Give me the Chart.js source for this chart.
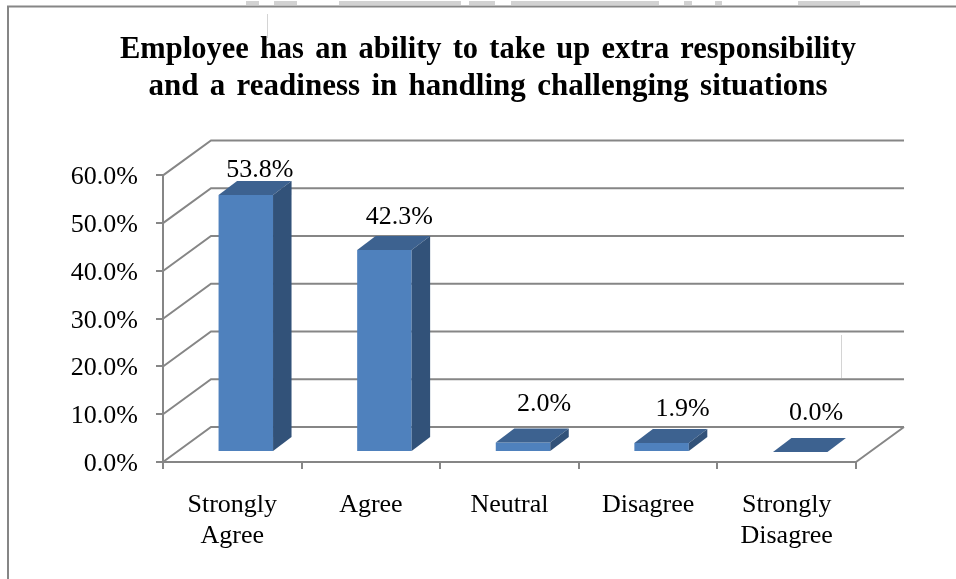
<!DOCTYPE html>
<html>
<head>
<meta charset="utf-8">
<title>Employee readiness</title>
<script src="https://cdn.jsdelivr.net/npm/chart.js@4/dist/chart.umd.min.js"></script>
<style>
  html, body { margin: 0; padding: 0; background: #fff; }
  #wrap { width: 956px; height: 579px; }
</style>
</head>
<body>
<div id="wrap"><canvas id="chart" width="956" height="579"></canvas></div>
<script>
const categories = [['Strongly', 'Agree'], 'Agree', 'Neutral', 'Disagree', ['Strongly', 'Disagree']];
const percentValues = [53.8, 42.3, 2.0, 1.9, 0.0];
const titleLines = [
  'Employee has an ability to take up extra responsibility',
  'and a readiness in handling challenging situations'
];
const yTicks = [0, 10, 20, 30, 40, 50, 60];

const FONT = '"Liberation Serif", "Times New Roman", serif';
const LINE = '#868686';
// depth of the fake 3D box
const WALL_DX = 48, WALL_DY = -35;
// bars stand a little way back from the front edge of the floor
const BAR_DX = 13.5, BAR_DY = -10;
const BAR_DEPTH_X = 18.5, BAR_DEPTH_Y = -14;
// hand placed value labels in the original, relative to the bar's top front edge
const labelNudge = [[14, -25], [15, -33], [21, -38], [21, -34], [16, -39]];
// scraps of the page watermark showing above the frame
const watermarkBits = [[246, 259], [274, 297], [339, 461], [469, 495], [511, 659], [684, 692], [715, 722], [798, 860]];

const frame3d = {
  id: 'frame3d',
  afterLayout(chart) {
    // labels are clipped to the axis box, so stretch it out to the canvas edge
    chart.scales.y.left = 0;
  },
  beforeDraw(chart) {
    const { ctx, chartArea: a, scales: { y } } = chart;
    ctx.wordSpacing = '3.6px'; // title is set loosely in the original
    ctx.save();
    ctx.fillStyle = '#d2d2d2';
    watermarkBits.forEach(w => ctx.fillRect(w[0], 1, w[1] - w[0], 4));
    // picture frame
    ctx.strokeStyle = LINE;
    ctx.lineWidth = 2;
    ctx.beginPath();
    ctx.moveTo(8, 579); ctx.lineTo(8, 6.5); ctx.lineTo(956, 6.5);
    ctx.stroke();
    // back wall + left wall lines, one for each tick
    ctx.beginPath();
    y.ticks.forEach(t => {
      const py = y.getPixelForValue(t.value);
      ctx.moveTo(a.left, py);
      ctx.lineTo(a.left + WALL_DX, py + WALL_DY);
      ctx.lineTo(a.right + WALL_DX, py + WALL_DY);
    });
    // floor right edge
    ctx.moveTo(a.right, a.bottom);
    ctx.lineTo(a.right + WALL_DX, a.bottom + WALL_DY);
    ctx.stroke();
    // faint scan seams
    ctx.strokeStyle = '#d4d4d4';
    ctx.lineWidth = 1;
    ctx.beginPath();
    ctx.moveTo(267.5, 14); ctx.lineTo(267.5, 38);
    ctx.moveTo(841.5, 335); ctx.lineTo(841.5, 378);
    ctx.stroke();
    ctx.restore();
  },
  beforeDatasetsDraw(chart) {
    chart.ctx.save();
    chart.ctx.translate(BAR_DX, BAR_DY);
  },
  afterDatasetsDraw(chart) {
    const { ctx } = chart;
    const bars = chart.getDatasetMeta(0).data;
    bars.forEach(b => {
      const l = b.x - b.width / 2, r = b.x + b.width / 2;
      // top face
      ctx.fillStyle = '#3d6290';
      ctx.beginPath();
      ctx.moveTo(l, b.y);
      ctx.lineTo(l + BAR_DEPTH_X, b.y + BAR_DEPTH_Y);
      ctx.lineTo(r + BAR_DEPTH_X, b.y + BAR_DEPTH_Y);
      ctx.lineTo(r, b.y);
      ctx.closePath();
      ctx.fill();
      // side face
      ctx.fillStyle = '#325279';
      ctx.beginPath();
      ctx.moveTo(r, b.y);
      ctx.lineTo(r + BAR_DEPTH_X, b.y + BAR_DEPTH_Y);
      ctx.lineTo(r + BAR_DEPTH_X, b.base + BAR_DEPTH_Y);
      ctx.lineTo(r, b.base);
      ctx.closePath();
      ctx.fill();
    });
    ctx.restore();

    // value labels
    ctx.save();
    ctx.fillStyle = '#000';
    ctx.font = '26px ' + FONT;
    ctx.textAlign = 'center';
    ctx.textBaseline = 'middle';
    bars.forEach((b, i) => {
      ctx.fillText(percentValues[i].toFixed(1) + '%',
        b.x + BAR_DX + labelNudge[i][0], b.y + BAR_DY + labelNudge[i][1]);
    });
    ctx.restore();
  }
};

new Chart(document.getElementById('chart'), {
  type: 'bar',
  data: {
    labels: categories,
    datasets: [{
      data: percentValues,
      backgroundColor: '#4f81bd',
      borderWidth: 0,
      barPercentage: 0.393,
      categoryPercentage: 1,
      clip: false
    }]
  },
  options: {
    responsive: false,
    animation: false,
    layout: { padding: { left: 120, right: 100, top: 31, bottom: 10 } },
    plugins: {
      legend: { display: false },
      tooltip: { enabled: false },
      title: {
        display: true,
        text: titleLines,
        color: '#000',
        font: { family: FONT, size: 31, weight: 'bold', lineHeight: 1.2 },
        padding: { top: 0, bottom: 70 }
      }
    },
    scales: {
      x: {
        afterFit(s) { s.height = 107; },
        grid: { drawOnChartArea: false, color: LINE, lineWidth: 2, tickLength: 7 },
        border: { color: LINE, width: 2 },
        ticks: { color: '#000', font: { family: FONT, size: 26, lineHeight: 1.19 }, padding: 21, maxRotation: 0, autoSkip: false }
      },
      y: {
        min: 0,
        max: 60,
        afterFit(s) { s.width = 43; },
        afterBuildTicks(s) { s.ticks = yTicks.map(v => ({ value: v })); },
        grid: { drawOnChartArea: false, color: LINE, lineWidth: 2, tickLength: 7 },
        border: { color: LINE, width: 2 },
        ticks: {
          color: '#000',
          font: { family: FONT, size: 26 },
          padding: 18,
          labelOffset: 2,
          callback: v => v.toFixed(1) + '%'
        }
      }
    }
  },
  plugins: [frame3d]
});
</script>
</body>
</html>
